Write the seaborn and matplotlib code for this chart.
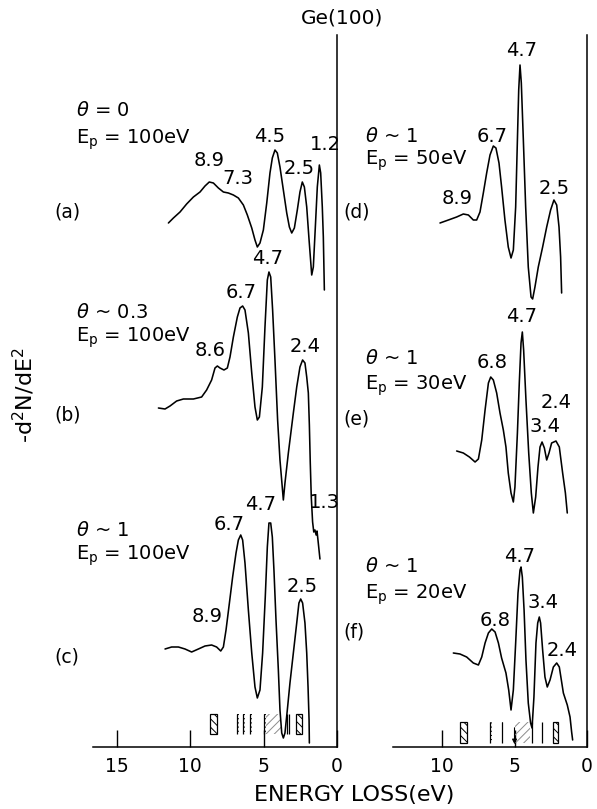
import matplotlib
matplotlib.use("Agg")
import matplotlib.pyplot as plt
from matplotlib.patches import Rectangle
import pandas as pd
import seaborn as sns

# ---- data: energy loss (eV) and -d2N/dE2 (arb. units) ----
a_E = [11.47, 11.13, 10.68, 10.23, 9.77, 9.32, 8.98, 8.69, 8.41, 8.07, 7.73, 7.39, 7.05, 6.71, 6.37,
       6.10, 5.80, 5.58, 5.42, 5.24, 5.01, 4.78, 4.56, 4.40, 4.22, 4.06, 3.88, 3.65, 3.42, 3.24,
       3.08, 2.90, 2.70, 2.52, 2.36, 2.22, 2.06, 1.90, 1.72, 1.61, 1.45, 1.34, 1.20, 1.11, 1.00, 0.93, 0.86]
a_I = [4, 9, 15, 23, 30, 35, 41, 45, 44, 39, 35, 34, 32, 29, 22,
       12, -1, -13, -20, -16, -3, 24, 54, 69, 77, 74, 60, 37, 14, 0,
       -6, -1, 17, 35, 45, 40, 20, -13, -48, -40, 7, 40, 62, 54, 20, -10, -63]

b_E = [12.15, 11.70, 11.36, 10.91, 10.45, 9.77, 9.21, 8.87, 8.53, 8.30, 8.14, 7.96, 7.69, 7.46, 7.28,
       7.05, 6.78, 6.60, 6.42, 6.26, 6.03, 5.80, 5.58, 5.42, 5.28, 5.08, 4.90, 4.74, 4.63, 4.51,
       4.38, 4.22, 4.04, 3.88, 3.65, 3.54, 3.31, 2.97, 2.74, 2.52, 2.34, 2.18, 2.06, 1.95, 1.88,
       1.82, 1.75, 1.66, 1.58, 1.50, 1.42, 1.36, 1.28, 1.16]
b_I = [-11, -12, -9, -4, -2, -2, 0, 7, 17, 29, 31, 29, 27, 29, 40,
       60, 80, 89, 91, 87, 64, 24, -10, -23, -20, 10, 70, 117, 125, 120,
       87, 37, -23, -63, -103, -86, -56, -16, 10, 30, 37, 34, 20, 4, -28,
       -65, -100, -125, -135, -133, -138, -134, -145, -162]

c_E = [11.70, 11.25, 10.79, 10.34, 9.89, 9.43, 8.98, 8.53, 8.19, 7.91, 7.73, 7.55, 7.32, 7.10, 6.87,
       6.71, 6.55, 6.42, 6.26, 6.03, 5.80, 5.58, 5.42, 5.24, 5.06, 4.88, 4.74, 4.63, 4.51, 4.40,
       4.29, 4.15, 3.99, 3.88, 3.76, 3.65, 3.54, 3.38, 3.20, 2.97, 2.74, 2.59, 2.47, 2.34, 2.18,
       2.06, 1.97, 1.90, 1.88]
c_I = [-2, 0, 0, -2, -5, -2, 1, 2, 0, -4, 0, 17, 44, 70, 94,
       107, 112, 107, 84, 37, -6, -40, -51, -43, -6, 50, 100, 124, 124, 110,
       77, 27, -23, -63, -86, -91, -86, -63, -36, -6, 24, 44, 48, 44, 24,
       -6, -40, -73, -96]

d_E = [10.14, 9.56, 8.99, 8.53, 8.18, 7.84, 7.61, 7.38, 7.15, 6.92, 6.69, 6.46, 6.28, 6.07, 5.89,
       5.66, 5.43, 5.24, 5.08, 4.92, 4.80, 4.71, 4.62, 4.53, 4.39, 4.23, 4.05, 3.86, 3.75, 3.59,
       3.36, 3.06, 2.78, 2.51, 2.28, 2.09, 1.93, 1.82, 1.75]
d_I = [4, 7, 10, 13, 12, 7, 7, 15, 34, 54, 72, 81, 79, 64, 40,
       7, -20, -31, -23, 20, 87, 137, 162, 144, 87, 20, -40, -70, -72, -60,
       -40, -20, 0, 17, 27, 22, 0, -30, -66]

e_E = [8.99, 8.53, 8.11, 7.72, 7.49, 7.26, 7.03, 6.80, 6.64, 6.46, 6.23, 6.00, 5.77, 5.59, 5.43,
       5.24, 5.08, 4.97, 4.80, 4.67, 4.55, 4.46, 4.37, 4.21, 4.02, 3.84, 3.70, 3.54, 3.38, 3.24,
       3.10, 2.94, 2.78, 2.62, 2.44, 2.14, 1.91, 1.68, 1.49, 1.36]
e_I = [-4, -6, -10, -15, -12, 7, 37, 64, 70, 67, 54, 34, 17, 0, -26,
       -46, -55, -40, 14, 64, 104, 115, 97, 47, -6, -46, -66, -50, -20, 0,
       5, -1, -13, -6, 4, 6, 0, -26, -46, -66]

f_E = [9.22, 8.76, 8.30, 7.84, 7.49, 7.26, 7.03, 6.80, 6.57, 6.34, 6.11, 5.89, 5.59, 5.40, 5.24,
       5.08, 4.92, 4.76, 4.62, 4.55, 4.46, 4.34, 4.21, 4.05, 3.89, 3.79, 3.66, 3.52, 3.40, 3.29,
       3.20, 3.06, 2.90, 2.74, 2.55, 2.32, 2.09, 1.91, 1.63, 1.36, 1.17, 1.06, 0.99]
f_I = [-1, -2, -5, -11, -13, -5, 9, 19, 23, 20, 9, -6, -21, -38, -58,
       -38, 9, 59, 82, 85, 75, 42, -8, -51, -71, -76, -45, 9, 29, 35,
       29, 2, -25, -35, -28, -15, -11, -15, -41, -53, -65, -80, -88]

curve_names = ["a", "b", "c", "d", "e", "f"]
curve_panel = ["left", "left", "left", "right", "right", "right"]
curve_offset = [520, 350, 100, 520, 300, 95]   # vertical stacking of the spectra
curve_E = [a_E, b_E, c_E, d_E, e_E, f_E]
curve_I = [a_I, b_I, c_I, d_I, e_I, f_I]

theta_labels = ["$\\theta$ = 0", "$\\theta$ ~ 0.3", "$\\theta$ ~ 1", "$\\theta$ ~ 1", "$\\theta$ ~ 1", "$\\theta$ ~ 1"]
ep_labels = ["E$_\\mathregular{p}$ = 100eV", "E$_\\mathregular{p}$ = 100eV", "E$_\\mathregular{p}$ = 100eV",
             "E$_\\mathregular{p}$ = 50eV", "E$_\\mathregular{p}$ = 30eV", "E$_\\mathregular{p}$ = 20eV"]
panel_tags = ["(a)", "(b)", "(c)", "(d)", "(e)", "(f)"]

peak_text = [["8.9", "7.3", "4.5", "2.5", "1.2"],
             ["4.7", "6.7", "8.6", "2.4", "1.3"],
             ["6.7", "4.7", "8.9", "2.5"],
             ["4.7", "6.7", "8.9", "2.5"],
             ["4.7", "6.8", "2.4", "3.4"],
             ["4.7", "3.4", "6.8", "2.4"]]

# theoretical transition markers near the energy axis
left_boxes = [(8.64, 8.16), (2.79, 2.40)]
left_combs = [6.78, 6.37, 5.92, 4.96]
left_shade = (4.80, 3.78)
left_lines = [3.42, 3.24]
right_boxes = [(8.76, 8.30), (2.37, 1.98)]
right_combs = [6.69, 5.88]
right_shade = (4.97, 3.93)
right_lines = [3.81, 3.10]

# ---- layout (pixels of the 597x809 output) ----
W, H = 597, 809
DPI = 100

rows = []
for name, panel, off, E, I in zip(curve_names, curve_panel, curve_offset, curve_E, curve_I):
    for e, i in zip(E, I):
        rows.append({"curve": name, "panel": panel, "E": e, "y": i + off})
df = pd.DataFrame(rows)

sns.set_style("white")
plt.rcParams["font.family"] = ["DejaVu Sans"]
plt.rcParams["mathtext.fontset"] = "dejavusans"
plt.rcParams["hatch.linewidth"] = 0.7
plt.rcParams["text.color"] = "black"
plt.rcParams["xtick.color"] = "black"

fig = plt.figure(figsize=(W / DPI, H / DPI), dpi=DPI)
axL = fig.add_axes([93 / W, 62 / H, 244 / W, 712 / H])
axR = fig.add_axes([393 / W, 62 / H, 194 / W, 712 / H])

for ax, panel, xmax, ticks in [(axL, "left", 16.6, [15, 10, 5, 0]), (axR, "right", 13.38, [10, 5, 0])]:
    sub = df[df["panel"] == panel]
    sns.lineplot(data=sub, x="E", y="y", units="curve", estimator=None, sort=False,
                 color="black", lw=1.15, ax=ax)
    ax.set_xlim(xmax, 0)
    ax.set_ylim(0, 712)
    ax.set_xticks(ticks)
    ax.set_xticklabels([str(t) for t in ticks])
    ax.set_yticks([])
    ax.set_xlabel("")
    ax.set_ylabel("")
    ax.tick_params(axis="x", direction="in", length=12, width=1, labelsize=13.5, pad=7,
                   bottom=True, colors="black")
    for s in ["top", "left"]:
        ax.spines[s].set_visible(False)
    for s in ["right", "bottom"]:
        ax.spines[s].set_linewidth(1.1)
        ax.spines[s].set_color("black")
    ax.patch.set_alpha(0)


def draw_marks(ax, boxes, combs, shade, lines, y0, y1):
    for e1, e2 in boxes:
        ax.add_patch(Rectangle((e2, y0), e1 - e2, y1 - y0, fill=False, lw=0.9,
                               edgecolor="black", hatch="\\\\\\\\"))
    for e in combs:
        ax.vlines(e, y0, y1, color="black", lw=0.9)
        ax.add_patch(Rectangle((e - 0.12, y0), 0.12, y1 - y0, fill=False, lw=0,
                               edgecolor="black", hatch="----"))
    ax.add_patch(Rectangle((shade[1], y0), shade[0] - shade[1], y1 - y0, fill=False, lw=0,
                           edgecolor="0.55", hatch="////"))
    ax.vlines(lines, y0, y1, color="black", lw=0.9)


draw_marks(axL, left_boxes, left_combs, left_shade, left_lines, 13, 33)
draw_marks(axR, right_boxes, right_combs, right_shade, right_lines, 4, 25)
axR.annotate("", xy=(5.0, 0), xytext=(5.0, 22),
             arrowprops=dict(arrowstyle="-|>", lw=0.8, color="black", mutation_scale=7))


def ftext(x, y, s, **kw):
    fig.text(x / W, 1 - y / H, s, **kw)


# condition labels: (x of left edge, y of theta line, y of Ep line, y of panel tag, x of tag)
cond_pos = [(76, 110, 140, 212, 54), (76, 312, 338, 415, 54), (76, 530, 556, 657, 54),
            (365, 136, 161, 212, 343), (365, 359, 386, 419, 343), (365, 566, 595, 632, 343)]
for (x, yt, ye, yp, xp), th, ep, tag in zip(cond_pos, theta_labels, ep_labels, panel_tags):
    ftext(x, yt, th, fontsize=14, ha="left", va="center")
    ftext(x, ye, ep, fontsize=14, ha="left", va="center")
    ftext(xp, yp, tag, fontsize=13.5, ha="left", va="center")

peak_pos = [[(209, 160), (238, 178), (270, 136), (299, 168), (325, 144)],
            [(268, 258), (241, 292), (210, 351), (305, 347), (324, 503)],
            [(229, 524), (261, 504), (207, 617), (302, 587)],
            [(522, 50), (492, 136), (457, 199), (554, 188)],
            [(522, 317), (492, 362), (556, 402), (545, 426)],
            [(520, 556), (543, 602), (495, 620), (562, 651)]]
for labels, pos in zip(peak_text, peak_pos):
    for s, (x, y) in zip(labels, pos):
        ftext(x, y, s, fontsize=14, ha="center", va="center")

ftext(342, 18, "Ge(100)", fontsize=14.5, ha="center", va="center")
ftext(354, 795, "ENERGY LOSS(eV)", fontsize=16, ha="center", va="center")
ftext(24, 395, "-d$^\\mathregular{2}$N/dE$^\\mathregular{2}$", fontsize=16, ha="center",
      va="center", rotation=90)

fig.savefig("out.png", dpi=DPI)
